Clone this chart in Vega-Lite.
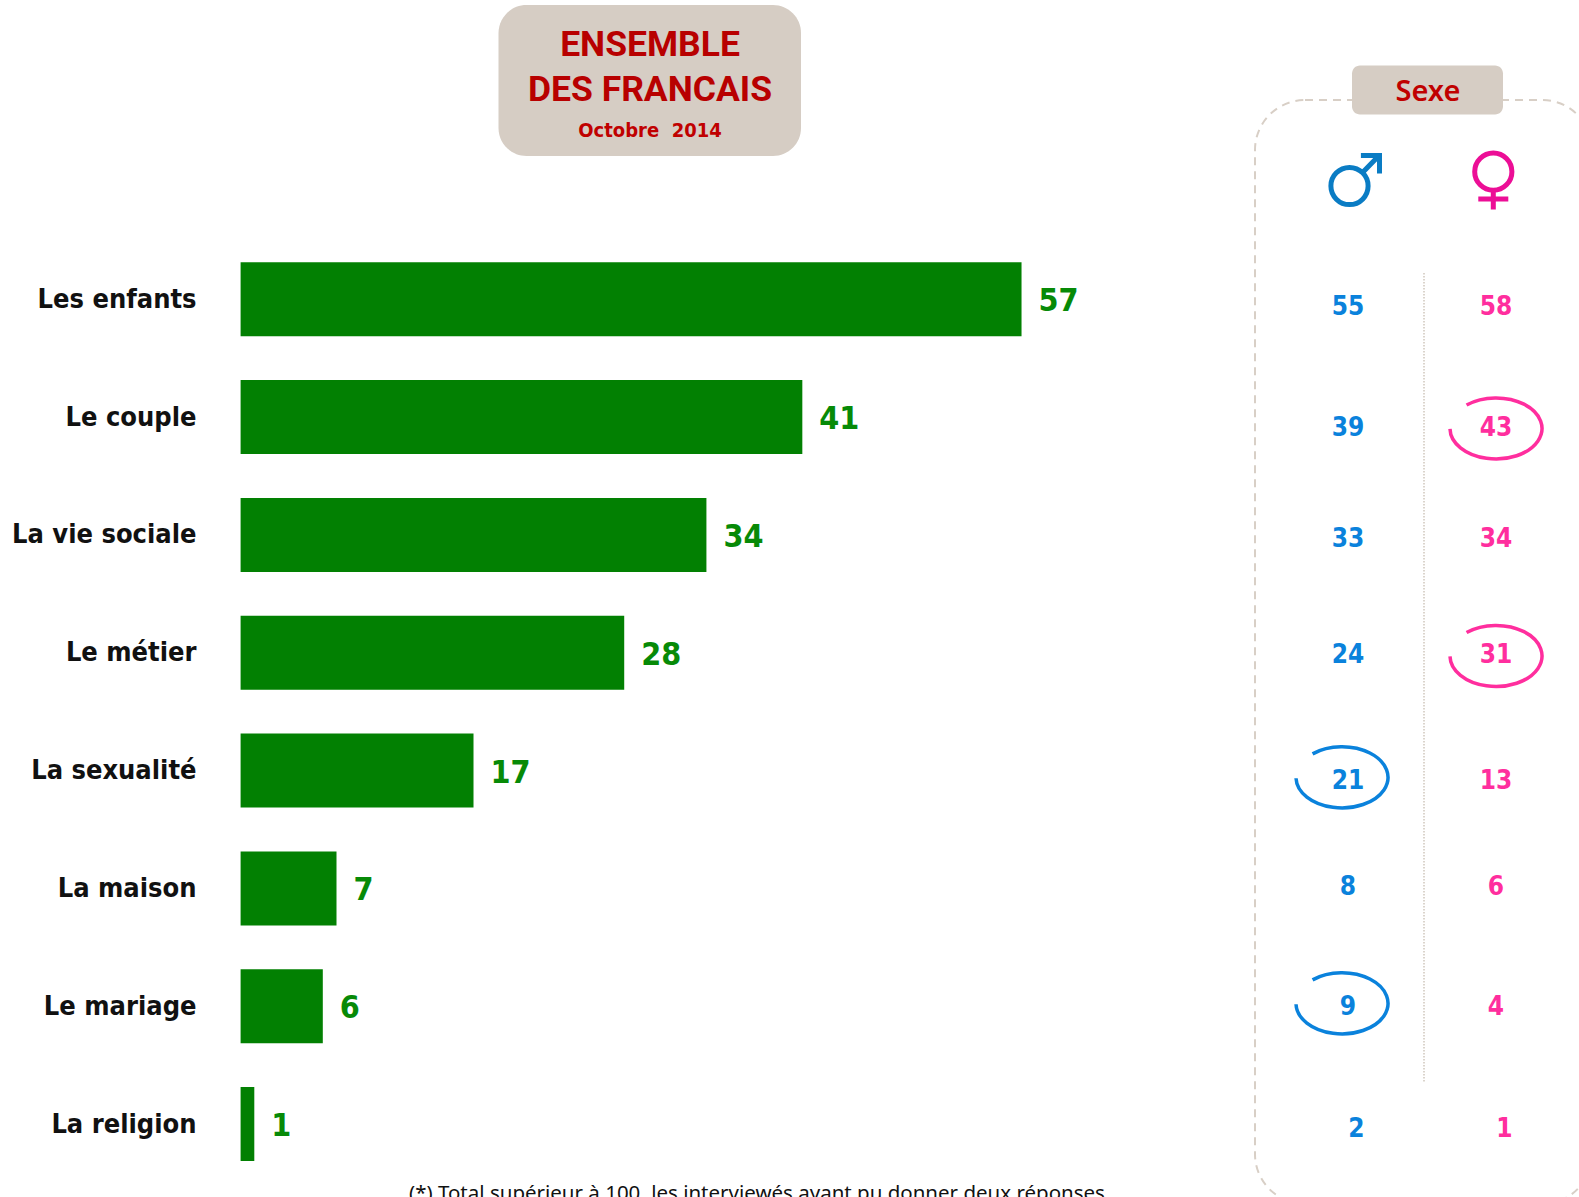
{
"$schema":"https://vega.github.io/schema/vega-lite/v6.json",
"width":1579,"height":1197,"padding":0,"autosize":{"type":"none"},"background":"#ffffff",
"config":{"view":{"stroke":null},"text":{"font":"DejaVu Sans Condensed, Noto Sans"}},
"datasets":{
"ensemble":[{"theme":"Les enfants","pct":57},{"theme":"Le couple","pct":41},{"theme":"La vie sociale","pct":34},{"theme":"Le métier","pct":28},{"theme":"La sexualité","pct":17},{"theme":"La maison","pct":7},{"theme":"Le mariage","pct":6},{"theme":"La religion","pct":1}],
"sexe":[
{"rang":1,"sexe":"Homme","pct":55,"entoure":false},{"rang":1,"sexe":"Femme","pct":58,"entoure":false},
{"rang":2,"sexe":"Homme","pct":39,"entoure":false},{"rang":2,"sexe":"Femme","pct":43,"entoure":true},
{"rang":3,"sexe":"Homme","pct":33,"entoure":false},{"rang":3,"sexe":"Femme","pct":34,"entoure":false},
{"rang":4,"sexe":"Homme","pct":24,"entoure":false},{"rang":4,"sexe":"Femme","pct":31,"entoure":true},
{"rang":5,"sexe":"Homme","pct":21,"entoure":true},{"rang":5,"sexe":"Femme","pct":13,"entoure":false},
{"rang":6,"sexe":"Homme","pct":8,"entoure":false},{"rang":6,"sexe":"Femme","pct":6,"entoure":false},
{"rang":7,"sexe":"Homme","pct":9,"entoure":true},{"rang":7,"sexe":"Femme","pct":4,"entoure":false},
{"rang":8,"sexe":"Homme","pct":2,"entoure":false},{"rang":8,"sexe":"Femme","pct":1,"entoure":false}]
},
"resolve":{"scale":{"x":"independent","y":"independent","color":"independent"}},
"layer":[
{"data":{"values":[{"cadre":"Sexe"}]},"mark":{"type":"rect","fillOpacity":0,"stroke":"#D8CFC6","strokeWidth":2,"strokeDash":[8,6],"cornerRadius":50},
 "encoding":{"x":{"value":1255},"x2":{"value":1592},"y":{"value":100},"y2":{"value":1204}}},
{"data":{"values":[{"cadre":"Sexe"}]},"mark":{"type":"rule","stroke":"#D0C6BC","strokeWidth":1.5,"strokeDash":[1.5,1.5]},
 "encoding":{"x":{"value":1424},"y":{"value":273},"y2":{"value":1083}}},
{"data":{"values":[{"cadre":"Ensemble"}]},"mark":{"type":"rect","fill":"#D6CDC4","cornerRadius":28},
 "encoding":{"x":{"value":498.5},"x2":{"value":801},"y":{"value":5},"y2":{"value":156}}},
{"data":{"values":[{"cadre":"Sexe"}]},"mark":{"type":"rect","fill":"#D6CDC4","cornerRadius":8},
 "encoding":{"x":{"value":1352},"x2":{"value":1503},"y":{"value":65.5},"y2":{"value":114.5}}},
{"data":{"values":[{"t":"ENSEMBLE"}]},"mark":{"type":"text","font":"Roboto","fontWeight":"bold","fontSize":35.5,"color":"#B80000","align":"center","baseline":"alphabetic"},
 "encoding":{"text":{"field":"t"},"x":{"value":650},"y":{"value":55.5}}},
{"data":{"values":[{"t":"DES FRANCAIS"}]},"mark":{"type":"text","font":"Roboto","fontWeight":"bold","fontSize":35.5,"color":"#B80000","align":"center","baseline":"alphabetic"},
 "encoding":{"text":{"field":"t"},"x":{"value":650},"y":{"value":100.5}}},
{"data":{"values":[{"t":"Octobre\u00a0\u00a02014"}]},"mark":{"type":"text","fontWeight":"bold","fontSize":20,"color":"#C00000","align":"center","baseline":"alphabetic"},
 "encoding":{"text":{"field":"t"},"x":{"value":650},"y":{"value":137}}},
{"data":{"values":[{"t":"Sexe"}]},"mark":{"type":"text","fontSize":29,"fontWeight":600,"font":"Noto Sans","color":"#C00000","align":"center","baseline":"alphabetic"},
 "encoding":{"text":{"field":"t"},"x":{"value":1428},"y":{"value":101}}},
{"data":{"values":[{"t":"(*) Total supérieur à 100, les interviewés ayant pu donner deux réponses"}]},"mark":{"type":"text","fontSize":20.5,"font":"Noto Sans","color":"#111111","align":"center","baseline":"alphabetic"},
 "encoding":{"text":{"field":"t"},"x":{"value":757},"y":{"value":1199.5}}},
{"data":{"name":"ensemble"},
 "encoding":{
  "y":{"field":"theme","type":"nominal","sort":null,"scale":{"domain":["Les enfants","Le couple","La vie sociale","Le métier","La sexualité","La maison","Le mariage","La religion"],"range":[240.3,1183],"paddingInner":0.372,"paddingOuter":0.186},
   "axis":{"orient":"left","offset":-196,"title":null,"ticks":false,"domain":false,"grid":false,"labelPadding":0,"labelFontSize":27,"labelFont":"DejaVu Sans Condensed, Noto Sans","labelFontWeight":"bold","labelColor":"#111111","labelOffset":0.5,"labelLimit":300}},
  "x":{"field":"pct","type":"quantitative","scale":{"domain":[0,97.66],"range":[240.6,1578.6],"nice":false,"zero":false},"axis":null}},
 "layer":[
  {"mark":{"type":"bar","color":"#028002"}},
  {"mark":{"type":"text","align":"left","dx":17,"dy":2,"fontSize":32,"fontWeight":"bold","color":"#078A07","baseline":"middle"},"encoding":{"text":{"field":"pct","type":"quantitative"}}}
 ]},
{"data":{"name":"sexe"},
 "encoding":{
  "x":{"field":"sexe","type":"nominal","scale":{"type":"point","domain":["Homme","Femme"],"range":[1348,1496],"padding":0},"axis":null},
  "y":{"field":"rang","type":"quantitative","scale":{"domain":[0,1,2,3,4,5,6,7,8],"range":[180,306.5,427.5,539,655,781,887,1007,1129],"nice":false,"zero":false},"axis":null},
  "color":{"field":"sexe","type":"nominal","scale":{"domain":["Homme","Femme"],"range":["#0A82DC","#FF2E9E"]},"legend":null}},
 "layer":[
  {"transform":[{"filter":"datum.rang<8"}],"mark":{"type":"text","fontSize":26,"fontWeight":"bold","baseline":"middle","align":"center"},"encoding":{"text":{"field":"pct","type":"quantitative"}}},
  {"transform":[{"filter":"datum.rang==8"}],"mark":{"type":"text","fontSize":26,"fontWeight":"bold","baseline":"middle","align":"center","dx":8.5},"encoding":{"text":{"field":"pct","type":"quantitative"}}},
  {"transform":[{"filter":"datum.entoure && datum.sexe=='Femme'"}],"mark":{"type":"point","filled":false,"strokeWidth":3.5,"opacity":1,"size":8464,"shape":"M-0.64,-0.49 A1,0.664 0 1 1 -1,0.03"}},
  {"transform":[{"filter":"datum.entoure && datum.sexe=='Homme'"}],"mark":{"type":"point","filled":false,"strokeWidth":3.5,"opacity":1,"size":8464,"shape":"M-0.77,-0.59 A1,0.664 0 1 1 -1.13,-0.06"}}
 ]},
{"data":{"values":[{"sexe":"Homme","rang":0}]},
 "encoding":{"x":{"field":"sexe","type":"nominal","scale":{"type":"point","domain":["Homme","Femme"],"range":[1348,1496],"padding":0},"axis":null},
  "y":{"field":"rang","type":"quantitative","scale":{"domain":[0,1],"range":[180,305],"nice":false,"zero":false},"axis":null}},
 "mark":{"type":"point","filled":false,"color":"#0A7CC4","opacity":1,"strokeWidth":5,"size":3600,"shape":"M.67,.2 A.62,.62 0 1 1 -.57,.2 A.62,.62 0 1 1 .67,.2 M.47,-.23 L1.02,-.8 M.43,-.82 L1.05,-.82 L1.05,-.22"}},
{"data":{"values":[{"sexe":"Femme","rang":0}]},
 "encoding":{"x":{"field":"sexe","type":"nominal","scale":{"type":"point","domain":["Homme","Femme"],"range":[1348,1496],"padding":0},"axis":null},
  "y":{"field":"rang","type":"quantitative","scale":{"domain":[0,1],"range":[180,305],"nice":false,"zero":false},"axis":null}},
 "mark":{"type":"point","filled":false,"color":"#EC0E96","opacity":1,"strokeWidth":5,"size":3600,"shape":"M.53,-.277 A.62,.62 0 1 1 -.71,-.277 A.62,.62 0 1 1 .53,-.277 M-.09,.4 L-.09,.98 M-.59,.633 L.41,.633"}}
]
}
